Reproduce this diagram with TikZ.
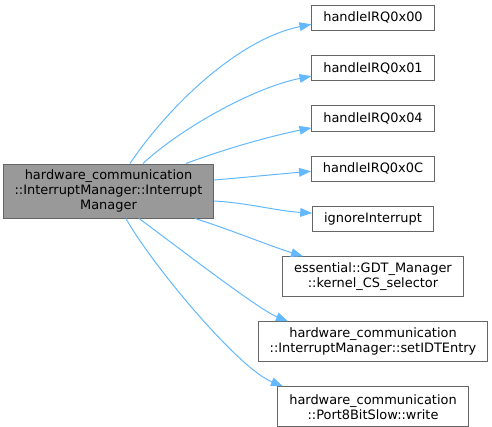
\documentclass[tikz,border=0pt]{standalone}
\usepackage{fontspec}
\setmainfont{DejaVu Sans}
\usetikzlibrary{arrows.meta}
\usetikzlibrary{positioning}
\definecolor{edgeblue}{RGB}{99,184,255}
\definecolor{boxgray}{RGB}{102,102,102}
\definecolor{mainfill}{RGB}{153,153,153}
\tikzset{
  fn/.style={
    draw=boxgray, line width=0.75pt, fill=white, align=center,
    inner xsep=8.5pt, inner ysep=0pt, minimum height=19pt,
    font=\fontsize{9.7}{11.25}\selectfont
  },
  fntwo/.style={fn, minimum height=30pt},
  caller/.style={fn, fill=mainfill, minimum width=155.25pt, minimum height=40.5pt},
  call/.style={-{Triangle[length=9pt,width=6.5pt]}, draw=edgeblue, line width=0.75pt}
}

\begin{document}
\begin{tikzpicture}[x=0.75pt, y=-0.75pt, node distance=18pt]
      \useasboundingbox (0,0) rectangle (492,426);

      \node [caller] (ctor) at (108.5,191)
        {hardware\_communication\\::InterruptManager::Interrupt\\Manager};

      % callees, stacked on the right
      \node [fn] (irq00) at (373,17.75) {handleIRQ0x00};
      \node [fn, below=of irq00] (irq01) {handleIRQ0x01};
      \node [fn, below=of irq01] (irq04) {handleIRQ0x04};
      \node [fn, below=of irq04] (irq0C) {handleIRQ0x0C};
      \node [fn, below=of irq0C] (ignore) {ignoreInterrupt};
      \node [fntwo, below=of ignore] (gdt) {essential::GDT\_Manager\\::kernel\_CS\_selector};
      \node [fntwo, below=of gdt] (setidt) {hardware\_communication\\::InterruptManager::setIDTEntry};
      \node [fntwo, below=of setidt] (write) {hardware\_communication\\::Port8BitSlow::write};

      \draw [call] ([xshift=16.1pt]ctor.north) .. controls +(42,-62) and +(-70,14) .. ([yshift=-4.9pt]irq00.west);
      \draw [call] ([xshift=25.9pt]ctor.north) .. controls +(35,-33) and +(-60,12) .. ([yshift=-6pt]irq01.west);
      \draw [call] ([xshift=58.1pt]ctor.north) .. controls +(40,-15) and +(-40,8) .. ([yshift=-7.1pt]irq04.west);
      \draw [call] ([yshift=8.25pt]ctor.east) .. controls +(35,-3) and +(-35,3) .. ([yshift=-1.9pt]irq0C.west);
      \draw [call] ([yshift=-7.5pt]ctor.east) .. controls +(35,2) and +(-35,-2) .. ([yshift=4.5pt]ignore.west);
      \draw [call] ([xshift=64.9pt]ctor.south) .. controls +(35,11) and +(-35,-11) .. ([xshift=-52.5pt]gdt.north);
      \draw [call] ([xshift=22.9pt]ctor.south) .. controls +(30,22) and +(-30,-12) .. ([xshift=-63.75pt]setidt.north);
      \draw [call] ([xshift=13.1pt]ctor.south) .. controls +(25,45) and +(-45,-18) .. ([xshift=-67.5pt]write.north);
\end{tikzpicture}
\end{document}
